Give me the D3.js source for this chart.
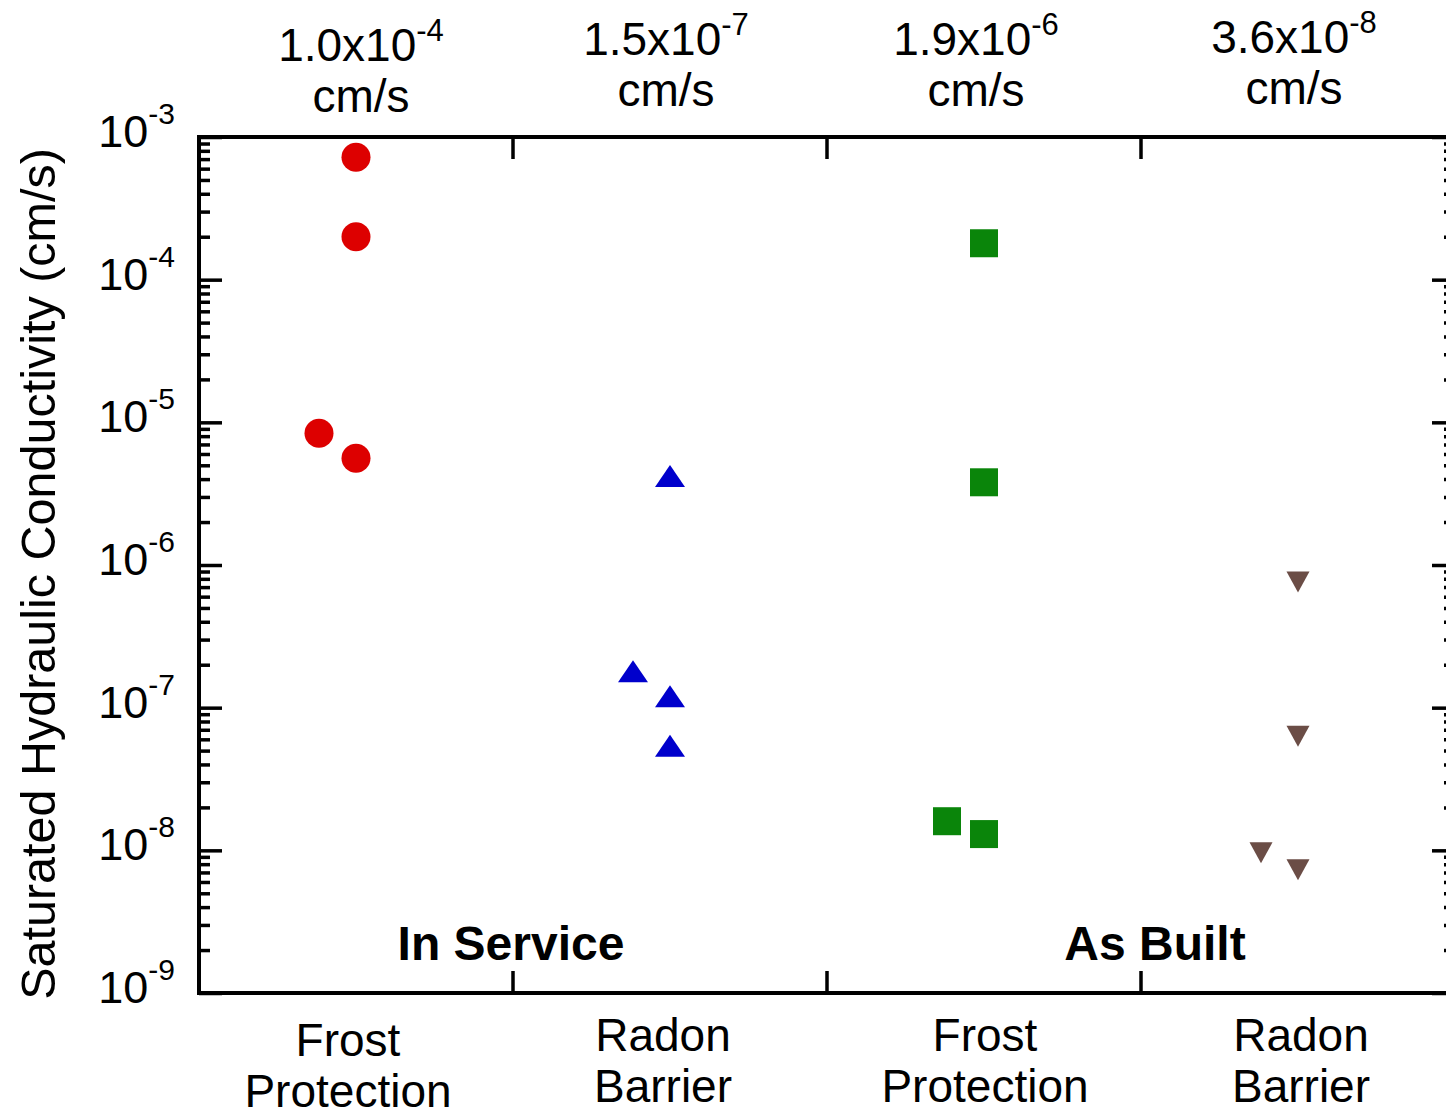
<!DOCTYPE html>
<html>
<head>
<meta charset="utf-8">
<script src="https://cdn.jsdelivr.net/npm/d3@7"></script>
<style>
  html, body { margin: 0; padding: 0; background: #fff; }
  svg { display: block; font-family: "Liberation Sans", Arial, Helvetica, sans-serif; }
</style>
</head>
<body>
<svg id="chart"></svg>
<script>
// categories along the x axis (two text lines each)
const categories = [["Frost", "Protection"], ["Radon", "Barrier"], ["Frost", "Protection"], ["Radon", "Barrier"]];
// mean value written above each category
const meanMantissa = ["1.0", "1.5", "1.9", "3.6"];
const meanExponent = [-4, -7, -6, -8];
const groupLabels = ["In Service", "As Built"];

// measured conductivity (cm/s); slot 1 = point drawn beside the column
const inServiceFrost = [7.2e-4, 2.0e-4, 8.4e-6, 5.6e-6];
const inServiceFrostSlot = [0, 0, 1, 0];
const inServiceRadon = [4.2e-6, 1.8e-7, 1.2e-7, 5.4e-8];
const inServiceRadonSlot = [0, 1, 0, 0];
const asBuiltFrost = [1.8e-4, 3.8e-6, 1.6e-8, 1.3e-8];
const asBuiltFrostSlot = [0, 0, 1, 0];
const asBuiltRadon = [7.6e-7, 6.3e-8, 9.6e-9, 7.3e-9];
const asBuiltRadonSlot = [0, 0, 1, 0];

const yTickExponents = [-3, -4, -5, -6, -7, -8, -9];

const width = 1446, height = 1116;
const plotLeft = 199, plotRight = 1455, plotTop = 137, plotBottom = 993;

const svg = d3.select('#chart').attr('width', width).attr('height', height);

const x = d3.scaleBand().domain(d3.range(categories.length)).range([plotLeft, plotRight]).padding(0);
const slotX = d3.scaleLinear().domain([0, 1]).range([0, -37]);
const y = d3.scaleLog().domain([1e-9, 1e-3]).range([plotBottom, plotTop]);

const majors = yTickExponents.map(e => Math.pow(10, e));
const minors = [];
d3.range(-9, -3).forEach(e => {
  d3.range(2, 10).forEach(m => minors.push(m * Math.pow(10, e)));
});

// axes: majors and minors, left and right (ticks point inward)
function drawAxis(axis, tx) {
  const g = svg.append('g').attr('transform', `translate(${tx},0)`).call(axis);
  g.select('.domain').remove();
  g.selectAll('.tick line').attr('stroke', '#000').attr('stroke-width', 3.5);
  g.selectAll('.tick text').remove();
  return g;
}
drawAxis(d3.axisRight(y).tickValues(majors).tickSize(23).tickFormat(''), plotLeft);
drawAxis(d3.axisRight(y).tickValues(minors).tickSize(11).tickFormat(''), plotLeft);
drawAxis(d3.axisLeft(y).tickValues(majors).tickSize(23).tickFormat(''), plotRight);
drawAxis(d3.axisLeft(y).tickValues(minors).tickSize(11).tickFormat(''), plotRight);

// category dividers at top and bottom
const dividers = d3.range(1, categories.length).map(i => x(i));
svg.append('g').selectAll('line').data(dividers).enter().append('line')
    .attr('x1', d => d).attr('x2', d => d)
    .attr('y1', plotBottom).attr('y2', plotBottom - 22)
    .attr('stroke', '#000').attr('stroke-width', 3.5);
svg.append('g').selectAll('line').data(dividers).enter().append('line')
    .attr('x1', d => d).attr('x2', d => d)
    .attr('y1', plotTop).attr('y2', plotTop + 22)
    .attr('stroke', '#000').attr('stroke-width', 3.5);

// frame
svg.append('rect')
    .attr('x', plotLeft).attr('y', plotTop)
    .attr('width', plotRight - plotLeft).attr('height', plotBottom - plotTop)
    .attr('fill', 'none').attr('stroke', '#000').attr('stroke-width', 4);

// y tick labels 10^n
const yLab = svg.append('g').selectAll('text').data(yTickExponents).enter().append('text')
    .attr('x', 175).attr('y', d => y(Math.pow(10, d)) + 10)
    .attr('text-anchor', 'end').attr('font-size', 45);
yLab.append('tspan').text('10');
yLab.append('tspan').attr('dy', -23).attr('font-size', 30).text(d => d);

// y axis title
svg.append('text')
    .attr('transform', `translate(55, ${(plotTop + plotBottom) / 2 + 9}) rotate(-90)`)
    .attr('text-anchor', 'middle').attr('font-size', 48.5)
    .text('Saturated Hydraulic Conductivity (cm/s)');

const center = i => x(i) + x.bandwidth() / 2;

// labels above plot
const topDx = [5, -4, -8, -4], topDy = [6, 0, 0, -2];
const topG = svg.append('g').selectAll('g').data(meanMantissa).enter().append('g')
    .attr('transform', (d, i) => `translate(${center(i) + topDx[i]}, ${topDy[i]})`);
const meanText = topG.append('text').attr('y', 55).attr('text-anchor', 'middle').attr('font-size', 46);
meanText.append('tspan').text(d => d + 'x10');
meanText.append('tspan').attr('dy', -20).attr('font-size', 31).text((d, i) => meanExponent[i]);
topG.append('text').attr('y', 106).attr('text-anchor', 'middle').attr('font-size', 46).text('cm/s');

// labels below plot
const botDx = [-8, -7, 1, 3], botDy = [5, 0, 0, 0];
const botG = svg.append('g').selectAll('g').data(categories).enter().append('g')
    .attr('transform', (d, i) => `translate(${center(i) + botDx[i]}, ${botDy[i]})`);
botG.append('text').attr('y', 1051).attr('text-anchor', 'middle').attr('font-size', 46).text(d => d[0]);
botG.append('text').attr('y', 1102).attr('text-anchor', 'middle').attr('font-size', 46).text(d => d[1]);

// group labels
const groupDx = [-2, 14];
svg.append('g').selectAll('text').data(groupLabels).enter().append('text')
    .attr('x', (d, i) => x(1 + 2 * i) + groupDx[i]).attr('y', 960)
    .attr('text-anchor', 'middle').attr('font-size', 48).attr('font-weight', 'bold')
    .text(d => d);

// markers
const series = [
  { values: inServiceFrost, slots: inServiceFrostSlot, color: '#dd0000', shape: 'circle' },
  { values: inServiceRadon, slots: inServiceRadonSlot, color: '#0000cc', shape: 'up' },
  { values: asBuiltFrost, slots: asBuiltFrostSlot, color: '#0a850a', shape: 'square' },
  { values: asBuiltRadon, slots: asBuiltRadonSlot, color: '#6b4d46', shape: 'down' }
];
const shapes = {
  circle: d3.symbol().type(d3.symbolCircle).size(Math.PI * 14.5 * 14.5)(),
  square: 'M-14,-14L14,-14L14,14L-14,14Z',
  up: 'M0,-11L15,11L-15,11Z',
  down: 'M0,10.5L11.5,-10.5L-11.5,-10.5Z'
};
series.forEach((s, i) => {
  svg.append('g').selectAll('path').data(s.values).enter().append('path')
      .attr('d', shapes[s.shape])
      .attr('transform', (d, j) => `translate(${center(i) + slotX(s.slots[j])}, ${y(d)})`)
      .attr('fill', s.color);
});
</script>
</body>
</html>
